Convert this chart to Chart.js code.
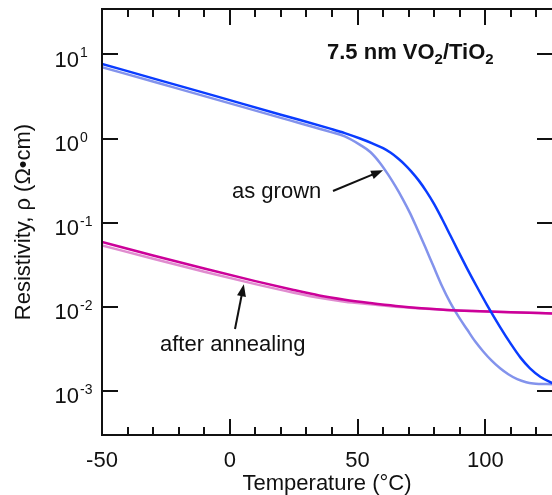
<!DOCTYPE html>
<html>
<head>
<meta charset="utf-8">
<script src="https://cdn.jsdelivr.net/npm/chart.js@4/dist/chart.umd.min.js"></script>
<style>
  html, body { margin: 0; padding: 0; background: #fff; overflow: hidden; }
  canvas { display: block; }
</style>
</head>
<body>
<canvas id="chart" width="560" height="495"></canvas>
<script>
// as grown, heating (dark blue) and cooling (light blue)
const grownUpT = [-50, -27.3, -5.8, 20, 27.5, 39.3, 45, 51, 56, 60, 63, 66, 68.5, 71, 74, 77, 80, 83, 86.3, 89.6, 92.9, 96.5, 100.7, 105.8, 110, 113.7, 117.5, 121.5, 126.5];
const grownUpRho = [7.7, 4.91, 3.21, 1.92, 1.66, 1.31, 1.16, 1.0, 0.871, 0.767, 0.676, 0.575, 0.49, 0.407, 0.316, 0.234, 0.166, 0.112, 0.0708, 0.0447, 0.0285, 0.0178, 0.0105, 0.00575, 0.00363, 0.00251, 0.00186, 0.00148, 0.00123];
const grownDownT = [-50, -27.3, -5.8, 20, 27.5, 39.3, 45, 51, 55, 58.8, 62, 64.7, 67.7, 70.6, 73.3, 76.5, 79.6, 83, 86.3, 89.6, 92.9, 96, 99.2, 102.5, 105.8, 109, 112.5, 116, 118.8, 126.5];
const grownDownRho = [7.05, 4.5, 2.94, 1.76, 1.52, 1.2, 1.06, 0.841, 0.692, 0.513, 0.372, 0.275, 0.191, 0.129, 0.0851, 0.0513, 0.0309, 0.0178, 0.0112, 0.00759, 0.00537, 0.00389, 0.00295, 0.00229, 0.00186, 0.00158, 0.00138, 0.00127, 0.00123, 0.0012];

// after annealing, heating (dark magenta) and cooling (light magenta)
const annealUpT = [-50, -30, -10, 10, 25, 35, 45, 55, 65, 75, 85, 95, 110, 126.5];
const annealUpRho = [0.0589, 0.0407, 0.0285, 0.0202, 0.01585, 0.01365, 0.01216, 0.01109, 0.01023, 0.0096, 0.00918, 0.00891, 0.00861, 0.00836];
const annealDownT = [-50, -30, -10, 10, 25, 35, 45, 55, 65, 75, 85, 95, 110, 126.5];
const annealDownRho = [0.0538, 0.0372, 0.0261, 0.0186, 0.01472, 0.0128, 0.01153, 0.01072, 0.01, 0.00955, 0.00918, 0.00891, 0.00861, 0.00836];

const xMajorTicks = [-50, 0, 50, 100];
const xMinorTicks = [-40, -30, -20, -10, 10, 20, 30, 40, 60, 70, 80, 90, 110, 120];
const yTickExp = [-3, -2, -1, 0, 1];

const FONT = '"Liberation Sans", Arial, sans-serif';

function pts(t, r) {
  return t.map((v, i) => ({ x: v, y: r[i] }));
}

// lower order = drawn on top
function line(label, t, r, color, order) {
  return {
    label,
    data: pts(t, r),
    borderColor: color,
    borderWidth: 2.5,
    pointRadius: 0,
    fill: false,
    order,
    cubicInterpolationMode: 'monotone',
  };
}

function arrow(ctx, x1, y1, x2, y2) {
  const a = Math.atan2(y2 - y1, x2 - x1);
  const len = 12, w = 4.5;
  ctx.beginPath();
  ctx.moveTo(x1, y1);
  ctx.lineTo(x2 - len * 0.8 * Math.cos(a), y2 - len * 0.8 * Math.sin(a));
  ctx.stroke();
  ctx.beginPath();
  ctx.moveTo(x2, y2);
  ctx.lineTo(x2 - len * Math.cos(a) + w * Math.sin(a), y2 - len * Math.sin(a) - w * Math.cos(a));
  ctx.lineTo(x2 - len * Math.cos(a) - w * Math.sin(a), y2 - len * Math.sin(a) + w * Math.cos(a));
  ctx.closePath();
  ctx.fill();
}

const decorations = {
  id: 'decorations',
  afterDraw(chart) {
    const { ctx, chartArea: ca, scales } = chart;
    const xs = scales.x, ys = scales.y;
    ctx.save();
    ctx.strokeStyle = '#111';
    ctx.fillStyle = '#111';
    ctx.lineWidth = 2;

    // frame
    ctx.strokeRect(ca.left, ca.top, ca.right - ca.left, ca.bottom - ca.top);

    // x ticks, inward, top and bottom
    ctx.beginPath();
    xMajorTicks.concat(xMinorTicks).forEach(v => {
      const len = xMajorTicks.includes(v) ? 16 : 8;
      const px = Math.round(xs.getPixelForValue(v));
      ctx.moveTo(px, ca.bottom);
      ctx.lineTo(px, ca.bottom - len);
      ctx.moveTo(px, ca.top);
      ctx.lineTo(px, ca.top + len);
    });
    // y ticks, inward, left and right
    yTickExp.forEach(e => {
      const py = Math.round(ys.getPixelForValue(Math.pow(10, e)));
      ctx.moveTo(ca.left, py);
      ctx.lineTo(ca.left + 16, py);
      ctx.moveTo(ca.right, py);
      ctx.lineTo(ca.right - 16, py);
    });
    ctx.stroke();

    // x tick labels
    ctx.font = '22px ' + FONT;
    ctx.textAlign = 'center';
    ctx.textBaseline = 'alphabetic';
    xMajorTicks.forEach(v => {
      ctx.fillText(String(v), xs.getPixelForValue(v), ca.bottom + 32);
    });

    // y tick labels with superscript
    yTickExp.forEach(e => {
      const py = ys.getPixelForValue(Math.pow(10, e));
      ctx.font = '22px ' + FONT;
      ctx.textAlign = 'right';
      ctx.fillText('10', 79, py + 12.5);
      ctx.font = '14px ' + FONT;
      ctx.textAlign = 'left';
      ctx.fillText(String(e), 80, py + 3);
    });

    // axis titles
    ctx.font = '22px ' + FONT;
    ctx.textAlign = 'center';
    ctx.fillText('Temperature (°C)', (ca.left + ca.right - 7) / 2 + 3, 490);
    ctx.save();
    ctx.translate(30, (ca.top + ca.bottom) / 2);
    ctx.rotate(-Math.PI / 2);
    ctx.fillText('Resistivity, ρ (Ω•cm)', 0, 0);
    ctx.restore();

    // sample label
    ctx.textAlign = 'left';
    let x = 327;
    const by = 59;
    const parts = [['7.5 nm VO', false], ['2', true], ['/TiO', false], ['2', true]];
    parts.forEach(([s, sub]) => {
      ctx.font = (sub ? 'bold 15px ' : 'bold 22px ') + FONT;
      ctx.fillText(s, x, sub ? by + 5 : by);
      x += ctx.measureText(s).width;
    });

    // annotations
    ctx.font = '22px ' + FONT;
    ctx.textAlign = 'left';
    ctx.fillText('as grown', 232, 198);
    ctx.fillText('after annealing', 160, 351);
    ctx.lineWidth = 2;
    arrow(ctx, 333, 191, xs.getPixelForValue(60), ys.getPixelForValue(0.42));
    arrow(ctx, 235, 329, xs.getPixelForValue(5.5), ys.getPixelForValue(0.0185));

    ctx.restore();
  }
};

new Chart(document.getElementById('chart'), {
  type: 'line',
  data: {
    datasets: [
      line('as grown (cooling)', grownDownT, grownDownRho, '#8393ec', 2),
      line('as grown (heating)', grownUpT, grownUpRho, '#0a3cff', 1),
      line('after annealing (cooling)', annealDownT, annealDownRho, '#e08ccf', 2),
      line('after annealing (heating)', annealUpT, annealUpRho, '#cc0099', 1),
    ],
  },
  options: {
    responsive: false,
    animation: false,
    devicePixelRatio: 1,
    layout: { padding: { top: 9, right: 7, bottom: 0, left: 0 } },
    plugins: {
      legend: { display: false },
      tooltip: { enabled: false },
    },
    scales: {
      x: {
        type: 'linear',
        min: -50,
        max: 126.5,
        grid: { display: false },
        border: { display: false },
        ticks: { display: false },
        afterFit: s => { s.height = 60; },
      },
      y: {
        type: 'logarithmic',
        min: 3.1e-4,
        max: 34.6,
        grid: { display: false },
        border: { display: false },
        ticks: { display: false },
        afterFit: s => { s.width = 102; },
      },
    },
  },
  plugins: [decorations],
});
</script>
</body>
</html>
